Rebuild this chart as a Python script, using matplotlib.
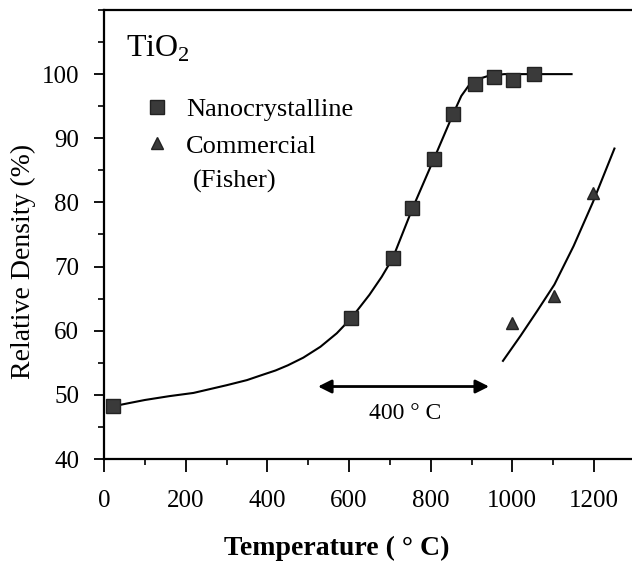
import matplotlib
matplotlib.use("Agg")
import matplotlib.pyplot as plt
from matplotlib.ticker import MultipleLocator

plt.rcParams['font.family'] = ['Liberation Serif', 'DejaVu Serif']
plt.rcParams['mathtext.fontset'] = 'custom'
plt.rcParams['mathtext.rm'] = 'Liberation Serif'

# measured points
nano_t = [21, 606, 707, 755, 808, 855, 909, 956, 1002, 1052]
nano_d = [48.2, 62.0, 71.4, 79.1, 86.8, 93.8, 98.5, 99.5, 99.1, 100.0]
comm_t = [1000, 1103, 1197]
comm_d = [61.2, 65.4, 81.4]

# guide curves
nano_curve_t = [10, 21, 60, 100, 160, 219, 300, 350, 387, 420, 450, 488, 530, 570, 606,
                650, 680, 707, 755, 808, 855, 875, 893, 915, 940, 980, 1050, 1145]
nano_curve_d = [48.0, 48.2, 48.7, 49.2, 49.8, 50.3, 51.5, 52.3, 53.1, 53.8, 54.6, 55.8,
                57.5, 59.6, 62.0, 65.6, 68.4, 71.3, 79.0, 86.8, 93.8, 96.6, 98.2, 99.2,
                99.7, 100.0, 100.0, 100.0]
comm_curve_t = [977, 1020, 1060, 1103, 1150, 1197, 1250]
comm_curve_d = [55.3, 59.2, 63.0, 67.2, 73.2, 80.0, 88.4]

xticks = [0, 200, 400, 600, 800, 1000, 1200]
yticks = [40, 50, 60, 70, 80, 90, 100]

fig = plt.figure(figsize=(6.32, 5.77), dpi=100)
ax = fig.add_axes([0.1646, 0.2045, 0.8354, 0.7782])

ax.plot(nano_curve_t, nano_curve_d, color='black', lw=1.5, zorder=2)
ax.plot(comm_curve_t, comm_curve_d, color='black', lw=1.5, zorder=2)
ax.plot(nano_t, nano_d, 's', color='#3a3a3a', markersize=10, markeredgecolor='#222222',
        linestyle='none', label='Nanocrystalline', zorder=3)
ax.plot(comm_t, comm_d, '^', color='#3a3a3a', markersize=8, markeredgecolor='#222222',
        linestyle='none', label='Commercial', zorder=3)

ax.annotate('', xy=(524, 51.3), xytext=(943, 51.3),
            arrowprops=dict(arrowstyle='<|-|>', color='black', lw=2, mutation_scale=20,
                            shrinkA=0, shrinkB=0))
ax.text(737, 47.1, '400 ° C', fontsize=17, ha='center', va='center')
ax.text(55, 102.7, r'TiO$_2$', fontsize=23, ha='left', va='baseline')
ax.text(218, 83.3, '(Fisher)', fontsize=19, ha='left', va='center')

leg = ax.legend(loc='upper left', bbox_to_anchor=(0.075, 0.805), frameon=False,
                fontsize=19, handlelength=1.0, handletextpad=0.6, borderpad=0,
                labelspacing=0.5, borderaxespad=0)

ax.set_xlim(0, 1293)
ax.set_ylim(40, 110)
ax.set_xticks(xticks)
ax.set_yticks(yticks)
ax.xaxis.set_minor_locator(MultipleLocator(100))
ax.yaxis.set_minor_locator(MultipleLocator(5))
ax.tick_params(axis='both', which='major', direction='out', length=7, width=1.3,
               labelsize=18, pad=11)
ax.tick_params(axis='both', which='minor', direction='out', length=4, width=1.2)
ax.tick_params(axis='x', which='major', length=9, pad=13)

for s in ['left', 'bottom', 'top']:
    ax.spines[s].set_linewidth(1.6)
ax.spines['right'].set_visible(False)

ax.set_xlabel('Temperature ( ° C)', fontsize=20, fontweight='bold')
ax.set_ylabel('Relative Density (%)', fontsize=20)
ax.xaxis.set_label_coords(0.44, -0.172)
ax.yaxis.set_label_coords(-0.128, 0.44)

fig.savefig('out.png', dpi=100)
